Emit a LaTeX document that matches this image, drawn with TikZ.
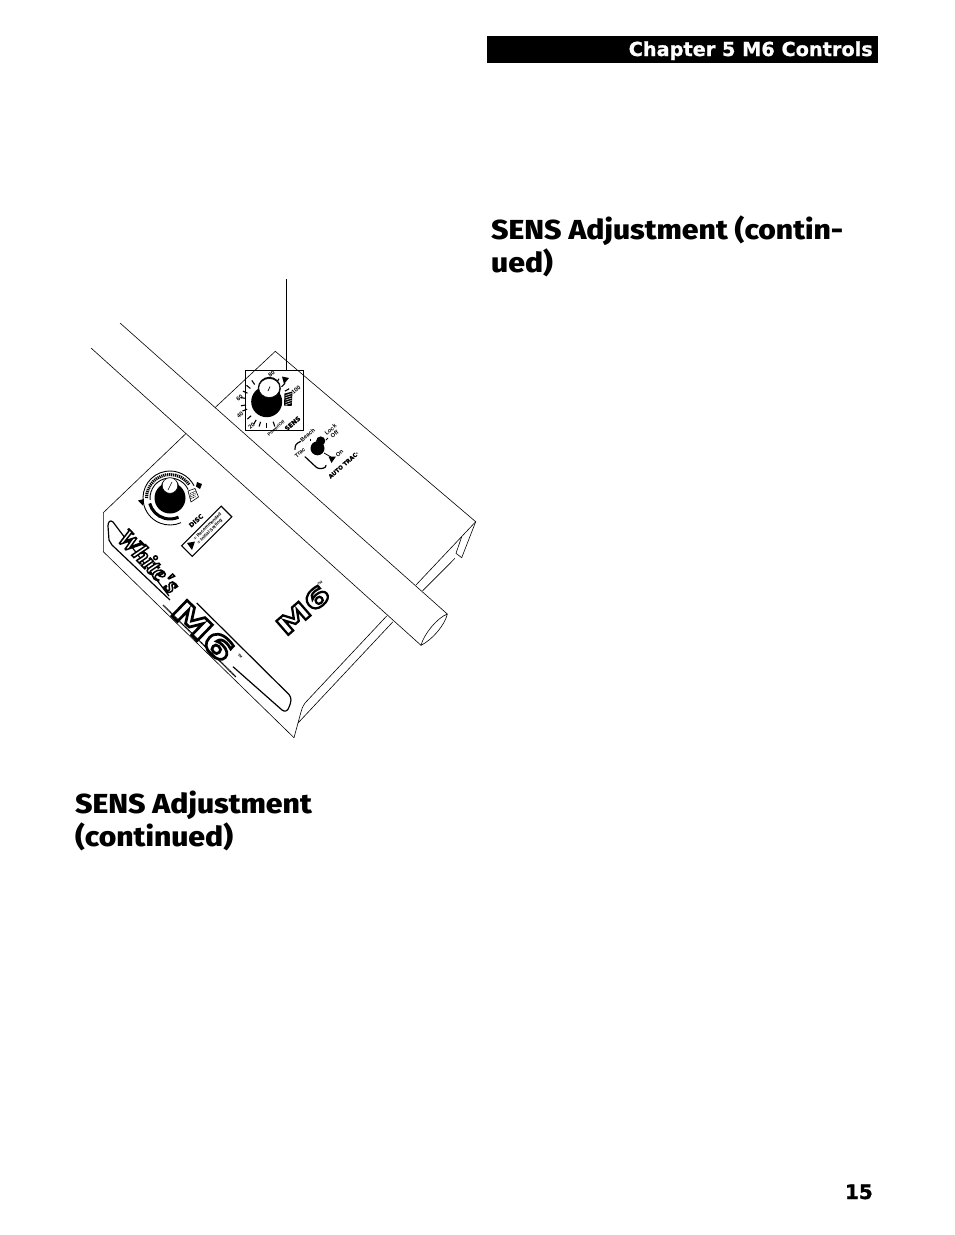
\documentclass[tikz,border=0pt]{standalone}
\usepackage{fontspec}
\usepackage{tikz}
\usetikzlibrary{positioning}
\newfontfamily\headfont[UprightFont={* ExtraBold},FakeStretch=1.095]{Fira Sans}
\newfontfamily\chapfont[UprightFont={* Bold},FakeBold=1]{DejaVu Sans}
\newfontfamily\sensfont[UprightFont={* Bold},FakeBold=1]{DejaVu Sans}
\newfontfamily\panelfont[UprightFont={* Bold}]{Liberation Sans}
\newfontfamily\logofont[UprightFont={* Bold},FakeBold=9,FakeStretch=1.45]{DejaVu Sans}
\newfontfamily\whitesfont[UprightFont={* Bold Italic},FakeBold=6]{Liberation Serif}
% Black stroke round white letters.
\newcommand{\blackStroke}{\special{pdf:code 0 0 0 RG}}
\tikzset{
	outline/.style={line width=0.6pt},
	slot/.style={line width=1.2pt, line join=round},
	heading/.style={anchor=base west, inner sep=0pt, font=\headfont\fontsize{27.5}{32}\selectfont},
	panellabel/.style={inner sep=0pt, rotate=41, font=\panelfont\fontsize{5.8}{6}\selectfont},
	panellabelbold/.style={inner sep=0pt, rotate=41, font=\sensfont\fontsize{6.2}{7}\selectfont},
}
\begin{document}
\begin{tikzpicture}[x=1pt,y=-1pt]
	\useasboundingbox (0,0) rectangle (954,1235);

	% Outlined logo lettering.
	% 1st argument: Position.
	% 2nd argument: Rotation.
	% 3rd argument: Font size.
	% 4th argument: Node name.
	\newcommand{\logoText}[4]{
		\node[inner sep=0pt, rotate=#2, text=white, font=\logofont\fontsize{#3}{#3}\selectfont] (#4) at (#1)
			{\blackStroke M6};
	}

	% PAGE HEADER
	\fill[black] (487,36) rectangle (878,63);
	\node[anchor=base east, inner sep=0pt, text=white, font=\chapfont\fontsize{19.3}{22}\selectfont] (chapter) at (873,56) {Chapter 5 M6 Controls};

	% HEADINGS
	\node[heading] (rightone) at (491,239) {SENS Adjustment (contin-};
	\node[heading] (righttwo) at (491,272) {ued)};
	\node[heading] (leftone) at (75,813) {SENS Adjustment};
	\node[heading] (lefttwo) at (75,846) {(continued)};
	\node[anchor=base east, inner sep=0pt, font=\chapfont\fontsize{20}{22}\selectfont] (pagenum) at (873,1199) {15};

	% HANDLE BAR
	\draw[outline] (120,323) -- (447.3,614);
	\draw[outline] (91,348) -- (421,645.3);
	\draw[outline] (447.3,614) .. controls (445,625) and (432,640) .. (421,645.3);
	\draw[outline] (447.3,614) .. controls (437,618) and (424,634) .. (421,645.3);

	% PANEL, UPPER PART
	\draw[outline] (215,407.7) -- (275.3,351.3) -- (475.7,521.7) -- (416,585);
	\draw[outline] (475.7,521.7) -- (461.7,557.7) -- (456,553.3) -- (461.7,536.7);
	\draw[outline] (455,558.3) -- (422.7,590.7);

	% PANEL, LOWER PART
	\draw[outline] (186,433.5) -- (103.3,512.7) -- (103.3,551.7) -- (294,737.7);
	\draw[outline] (294,737.7) -- (301,712) .. controls (302,708) .. (305,703) -- (386.7,616);
	\draw[outline] (298,723) -- (393,621.7);

	% SENS KNOB
	\node[draw, line width=0.9pt, minimum width=57.6pt, minimum height=59.3pt, inner sep=0pt] (sensbox) at (274.5,400.3) {};
	\coordinate (leadertop) at (286,279);
	\draw[line width=0.9pt] (leadertop) -- (leadertop |- sensbox.north);
	\foreach \a in {72,90,107,120,138,159,171,189,204,219,235,298,315,330}{
		\draw[line width=1.1pt, shift={(266.7,401.7)}] (\a:21) -- (\a:26);
	}
	\fill[black] (266.7,401.7) circle (15.5);
	\fill[black] (269.3,388.3) circle (11.5);
	\filldraw[fill=white, draw=black, line width=0.6pt] (269.3,388) ellipse (10.5 and 9.5);
	\draw[line width=0.7pt, white] (265,396) -- (268,391);
	\draw[black, line width=0.7pt] (268,391) -- (270,386.5);
	\fill[black] (282,376.5) -- (289,378) -- (284,384) -- cycle;
	\fill[black] (284.5,393.5) -- (292.5,391.5) -- (291.7,406) -- (284,405.5) -- cycle;
	\foreach \i in {0,...,4}{
		\draw[line width=0.5pt, white] (285.5,{395.5+2.3*\i}) -- (291.5,{393.5+2.3*\i});
	}
	\node[panellabel] (labeleighty) at (271.5,374) {80};
	\node[panellabel] (labelhundred) at (296,390) {100};
	\node[panellabel] (labelsixty) at (239.5,397.5) {60};
	\node[panellabel] (labelforty) at (240,415) {40};
	\node[panellabel] (labeltwenty) at (251.5,426) {20};
	\node[panellabel, font=\panelfont\fontsize{4.5}{5}\selectfont] (labelpower) at (276,428.5) {Power/Off};
	\node[panellabelbold] (labelsens) at (292.5,423.5) {SENS};

	% AUTO TRAC SWITCH
	\fill[black] (320.7,441) circle (4.6);
	\fill[black] (317.5,448.3) circle (7);
	\draw[line width=0.8pt] (324,453) -- (331,457);
	\fill[black] (328.5,456.5) -- (336,456.5) -- (331.5,463) -- cycle;
	\draw[line width=0.8pt] (310.5,438.5) -- (310.5,440.5);
	\draw[line width=0.8pt] (326,440) -- (328,438);
	\draw[line width=1.2pt, line cap=round] (295,449.5) .. controls (295,445) and (296,443.5) .. (300.5,441.5);
	\draw[line width=1.2pt, line cap=round] (305,456.7) -- (316,467) .. controls (318,469) and (322,469) .. (325,467.5) -- (326,465.5);
	\node[panellabel] (labelbeach) at (307.5,435) {Beach};
	\node[panellabel] (labeltrac) at (300,452.7) {Trac};
	\node[panellabel, align=center] (labellock) at (332.5,432) {Lock\\Off};
	\node[panellabel] (labelon) at (339.5,453.3) {On};
	\node[panellabel, font=\sensfont\fontsize{5.6}{6}\selectfont] (labelauto) at (343.5,465) {AUTO TRAC\raisebox{1pt}{\fontsize{3}{3}\selectfont•}};

	% DISC KNOB
	\draw[line width=0.9pt] (170,498) ++(170:27) arc[start angle=170, end angle=333, radius=27];
	\draw[line width=0.9pt] (170,498) ++(175:20) arc[start angle=175, end angle=335, radius=20];
	\draw[line width=3pt, dash pattern=on 1.2pt off 0.8pt] (170,498) ++(180:23.5) arc[start angle=180, end angle=325, radius=23.5];
	\draw[line width=0.9pt] (170,498) ++(172:27) arc[start angle=172, end angle=66, radius=27];
	\draw[line width=3pt] (170,498) ++(165:21) arc[start angle=165, end angle=66, radius=21];
	\fill[black] (170,498) circle (15.5);
	\fill[black] (170,487) circle (9);
	\filldraw[fill=white, draw=black, line width=0.5pt] (170,485.5) circle (7.8);
	\draw[black, line width=0.6pt] (168,490) -- (172,482);
	\fill[black] (138,500.5) -- (144,499) -- (143,505.5) -- cycle;
	\fill[black] (197,482) -- (202,484) -- (200,489) -- (196,486.5) -- cycle;
	\draw[line width=0.6pt, fill=white] (188,491) -- (195,488.5) -- (198.5,497) -- (191,502) -- cycle;
	\foreach \i in {0,...,3}{
		\draw[line width=0.6pt, dash pattern=on 1pt off 0.6pt] (190,{493.5+1.8*\i}) -- (196,{491+1.8*\i});
	}
	\node[panellabelbold] (labeldisc) at (196,520.7) {DISC};
	\node[draw, line width=1.1pt, rotate=45, minimum width=56pt, minimum height=15pt, inner sep=0pt, align=left, font=\panelfont\fontsize{4.6}{5.2}\selectfont] (setbox) at (206.7,531.3) {\hspace*{8pt}= Recommended\\\hspace*{8pt}= Initial Setting};
	\fill[black] (187,543) -- (195,541.5) -- (192,550) -- cycle;

	% LOGO SLOT
	\draw[slot] (196.7,603) -- (289,694.5) .. controls (292,698) and (291,702) .. (289.5,706) .. controls (288,711) and (285,712.5) .. (282,710) -- (233,666.7);
	\draw[slot] (169,596) -- (113,522) .. controls (110,519.5) and (108,522) .. (108,526) -- (109,540) .. controls (110,543) .. (112,545) -- (170,600);
	\node[inner sep=0pt, rotate=-46, text=white, font=\whitesfont\fontsize{25}{25}\selectfont] (whiteslogo) at (149,561) {\blackStroke White's};
	\logoText{203,631}{-44}{30}{slotlogo}
	\node[inner sep=0pt, rotate=-44, font=\panelfont\fontsize{3.5}{4}\selectfont] (slottm) at (240,656) {TM};
	\draw[line width=1.4pt, dash pattern=on 0.8pt off 0.5pt] (163,605) -- (236,677);

	% M6 LOGO
	\logoText{303,610}{41}{25}{panellogo}
	\node[inner sep=0pt, rotate=41, font=\panelfont\fontsize{3.5}{4}\selectfont] (logotm) at (320,583) {TM};
\end{tikzpicture}
\end{document}
